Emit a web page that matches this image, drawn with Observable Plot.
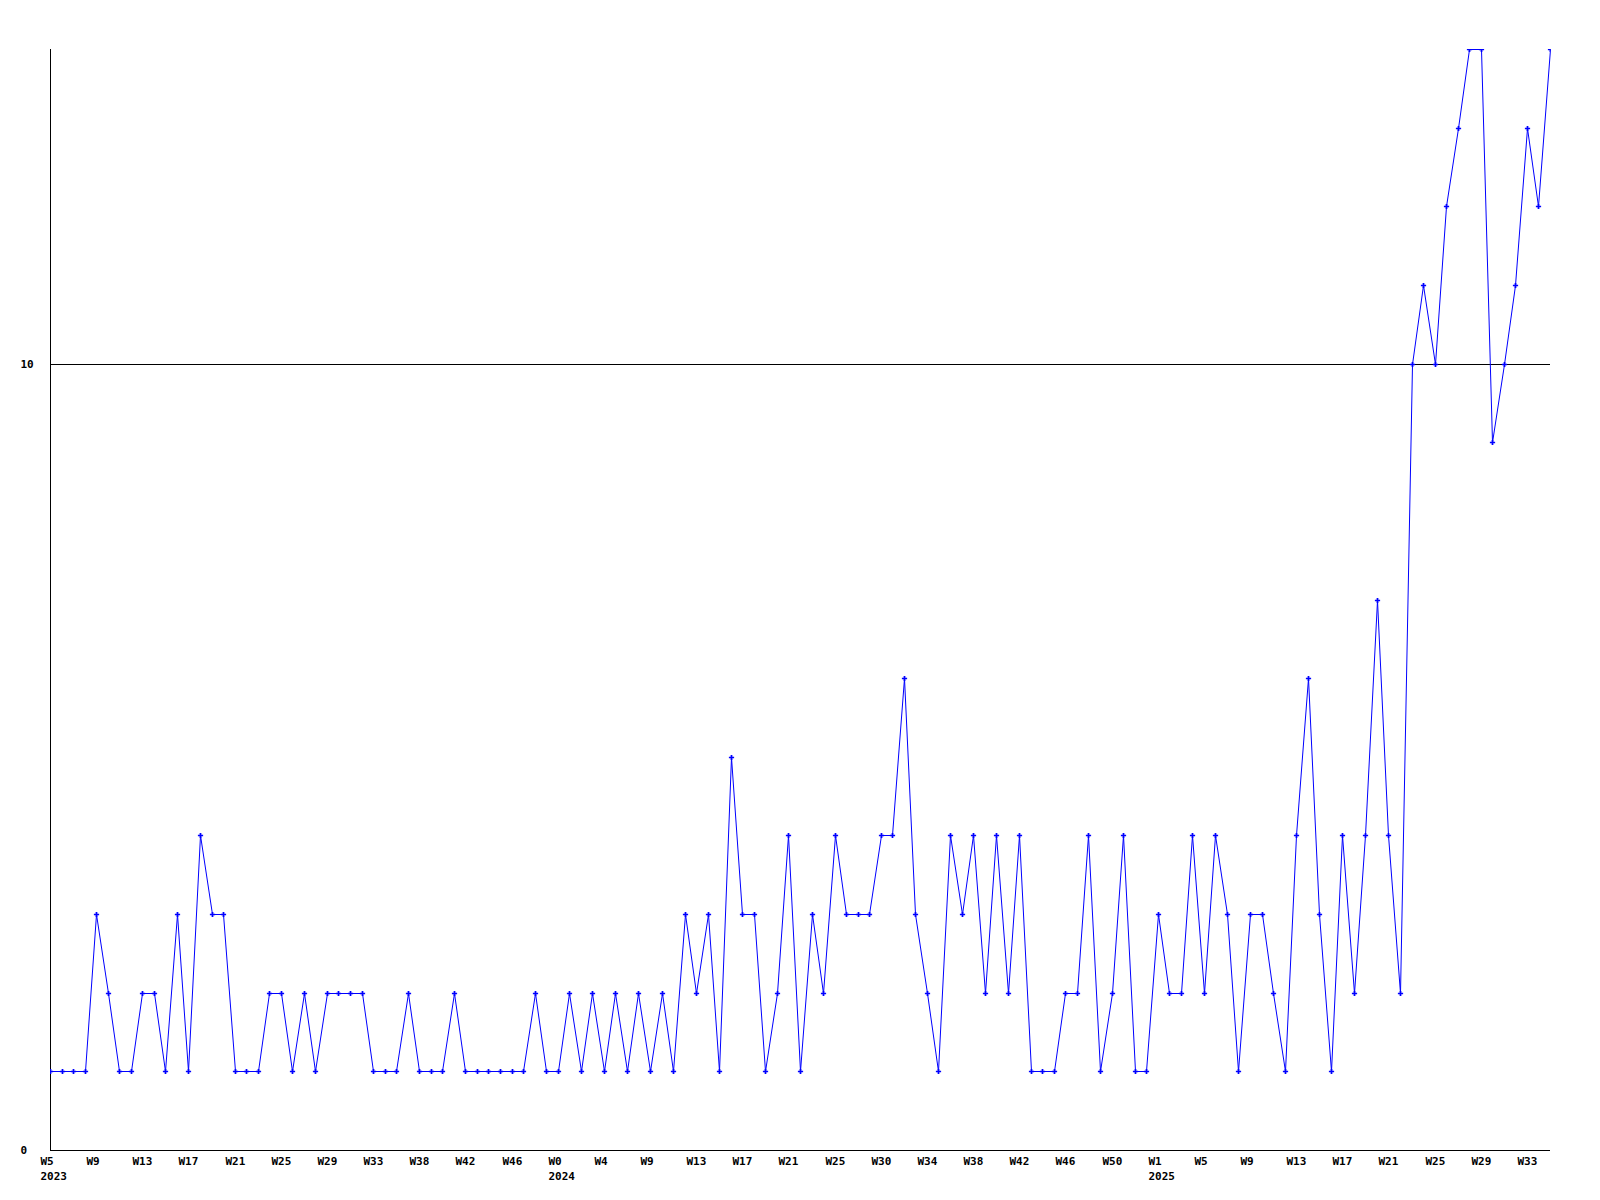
<!DOCTYPE html>
<html>
<head>
<meta charset="utf-8">
<script src="https://cdn.jsdelivr.net/npm/d3@7"></script>
<script src="https://cdn.jsdelivr.net/npm/@observablehq/plot@0.6"></script>
<style>
  html, body { margin: 0; padding: 0; background: #fff; }
  #chart { width: 1600px; height: 1200px; overflow: hidden; }
</style>
</head>
<body>
<div id="chart"></div>
<script>
// Weekly counts, one value per week starting at W5 2023
const weeklyCounts = [
  1, 1, 1, 1, 3, 2, 1, 1, 2, 2,
  1, 3, 1, 4, 3, 3, 1, 1, 1, 2,
  2, 1, 2, 1, 2, 2, 2, 2, 1, 1,
  1, 2, 1, 1, 1, 2, 1, 1, 1, 1,
  1, 1, 2, 1, 1, 2, 1, 2, 1, 2,
  1, 2, 1, 2, 1, 3, 2, 3, 1, 5,
  3, 3, 1, 2, 4, 1, 3, 2, 4, 3,
  3, 3, 4, 4, 6, 3, 2, 1, 4, 3,
  4, 2, 4, 2, 4, 1, 1, 1, 2, 2,
  4, 1, 2, 4, 1, 1, 3, 2, 2, 4,
  2, 4, 3, 1, 3, 3, 2, 1, 4, 6,
  3, 1, 4, 2, 4, 7, 4, 2, 10, 11,
  10, 12, 13, 14, 14, 9, 10, 11, 13, 12,
  14
];

// Week labels printed under every fourth week
const weekTickLabels = [
  "W5", "W9", "W13", "W17", "W21", "W25", "W29", "W33", "W38", "W42", "W46",
  "W0", "W4", "W9", "W13", "W17", "W21", "W25", "W30", "W34", "W38", "W42", "W46", "W50",
  "W1", "W5", "W9", "W13", "W17", "W21", "W25", "W29", "W33"
];

// Years, printed under the first week label of each year
const yearLabels = ["2023", "2024", "2025"];
const yearStartTick = [0, 11, 24];

// Labelled values on the vertical axis
const yLabelValues = [0, 10];
const yMax = 14;

const tickEvery = 4;
const font = "DejaVu Sans Mono";

const series = weeklyCounts.map((count, week) => ({week, count}));
const weekTicks = weekTickLabels.map((label, k) => ({week: k * tickEvery, label}));
const yearTicks = yearLabels.map((year, k) => ({week: yearStartTick[k] * tickEvery, year}));

const chart = Plot.plot({
  width: 1600,
  height: 1200,
  marginLeft: 50,
  marginRight: 50,
  marginTop: 49,
  marginBottom: 50,
  x: {domain: [0, weeklyCounts.length - 1], axis: null, round: true},
  y: {domain: [0, yMax], axis: null, round: true},
  style: {background: "#fff", color: "#000", fontFamily: font, fontSize: "11px"},
  marks: [
    Plot.ruleY(yLabelValues, {stroke: "#000", strokeWidth: 1}),
    Plot.ruleX([0], {stroke: "#000", strokeWidth: 1}),
    Plot.line(series, {x: "week", y: "count", stroke: "#0000ff", strokeWidth: 1}),
    Plot.dot(series, {x: "week", y: "count", symbol: "cross", r: 2.2, fill: "#0000ff", stroke: null, clip: "frame"}),
    Plot.text(yLabelValues, {
      y: d => d, text: d => String(d), frameAnchor: "left", textAnchor: "start", dx: -30,
      fontFamily: font, fontSize: 11, fontWeight: "bold", fill: "#000"
    }),
    Plot.text(weekTicks, {
      x: "week", text: "label", frameAnchor: "bottom", textAnchor: "start", dx: -10, dy: 14,
      fontFamily: font, fontSize: 11, fontWeight: "bold", fill: "#000"
    }),
    Plot.text(yearTicks, {
      x: "week", text: "year", frameAnchor: "bottom", textAnchor: "start", dx: -10, dy: 29.5,
      fontFamily: font, fontSize: 11, fontWeight: "bold", fill: "#000"
    })
  ]
});

document.getElementById("chart").appendChild(chart);
</script>
</body>
</html>
